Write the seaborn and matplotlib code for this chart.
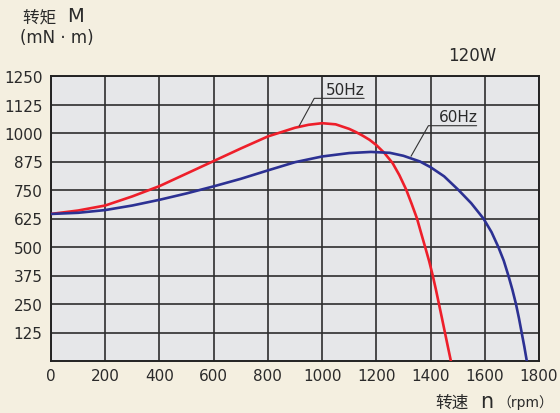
import matplotlib
matplotlib.use('Agg')
import matplotlib.pyplot as plt
import seaborn as sns

# torque curves
rpm_50 = [0, 100, 200, 300, 400, 500, 600, 700, 800, 900, 950, 1000, 1050, 1100, 1125, 1150,
          1175, 1200, 1230, 1260, 1285, 1310, 1330, 1350, 1365, 1380, 1395, 1408, 1420, 1431,
          1442, 1453, 1464, 1475]
torque_50 = [645, 660, 682, 722, 767, 822, 877, 932, 985, 1023, 1036, 1043, 1038, 1018, 1004, 988,
             970, 947, 912, 868, 815, 752, 690, 625, 562, 500, 437, 375, 312, 250,
             188, 125, 62, 0]

rpm_60 = [0, 100, 200, 300, 400, 500, 600, 700, 800, 900, 1000, 1100, 1180, 1250, 1300,
          1361, 1400, 1450, 1503, 1550, 1595, 1625, 1650, 1670, 1687, 1702, 1715, 1726, 1736,
          1746, 1755]
torque_60 = [645, 650, 662, 682, 707, 735, 766, 799, 836, 872, 897, 912, 917, 913, 900,
             875, 850, 810, 750, 692, 625, 565, 500, 440, 375, 312, 250, 188, 125,
             62, 0]

x_ticks = [0, 200, 400, 600, 800, 1000, 1200, 1400, 1600, 1800]
y_ticks = [125, 250, 375, 500, 625, 750, 875, 1000, 1125, 1250]

BG = '#f4efe0'
PLOT_BG = '#e6e7e9'
RED = '#ee1f2a'
BLUE = '#2c3193'
TXT = '#2a2a2a'

sns.set_style('white')
plt.rcParams['font.family'] = ['DejaVu Sans', 'Noto Sans CJK SC']

fig = plt.figure(figsize=(5.6, 4.14), dpi=100, facecolor=BG)
ax = fig.add_axes([51 / 560, 52 / 414, 488 / 560, 285 / 414])
ax.set_facecolor(PLOT_BG)

sns.lineplot(x=rpm_50, y=torque_50, ax=ax, color=RED, lw=1.9, estimator=None, zorder=3)
sns.lineplot(x=rpm_60, y=torque_60, ax=ax, color=BLUE, lw=1.9, estimator=None, zorder=3)

ax.set_xlim(0, 1800)
ax.set_ylim(0, 1250)
ax.set_xticks(x_ticks)
ax.set_yticks(y_ticks)
ax.tick_params(length=0, labelsize=11, colors=TXT)
ax.tick_params(axis='y', pad=6)
ax.tick_params(axis='x', pad=5)
ax.grid(True, color='#2e2e2e', lw=1.2)
ax.set_axisbelow(True)
for s in ax.spines.values():
    s.set_color('#222222')
    s.set_linewidth(1.4)
ax.set_xlabel('')
ax.set_ylabel('')

# curve labels with leader lines
ax.plot([915, 971, 1155], [1030, 1152, 1152], color='#333333', lw=0.8, zorder=4)
ax.text(1014, 1160, '50Hz', fontsize=11, color=TXT, ha='left', va='bottom')
ax.plot([1328, 1392, 1570], [898, 1032, 1032], color='#333333', lw=0.8, zorder=4)
ax.text(1432, 1040, '60Hz', fontsize=11, color=TXT, ha='left', va='bottom')

# axis titles and power rating
fig.text(23 / 560, 1 - 17 / 414, '转矩 ', fontsize=12, color=TXT, ha='left', va='center')
fig.text(67 / 560, 1 - 17 / 414, 'M', fontsize=14, color=TXT, ha='left', va='center')
fig.text(20 / 560, 1 - 38 / 414, '(mN · m)', fontsize=12, color=TXT, ha='left', va='center')
fig.text(472 / 560, 1 - 56 / 414, '120W', fontsize=12, color=TXT, ha='center', va='center')
fig.text(435 / 560, 1 - 403 / 414, '转速', fontsize=12, color=TXT, ha='left', va='center')
fig.text(480 / 560, 1 - 402 / 414, 'n', fontsize=15, color=TXT, ha='left', va='center')
fig.text(497 / 560, 1 - 403 / 414, '（rpm）', fontsize=10, color=TXT, ha='left', va='center')

fig.savefig('out.png', dpi=100, facecolor=BG)
